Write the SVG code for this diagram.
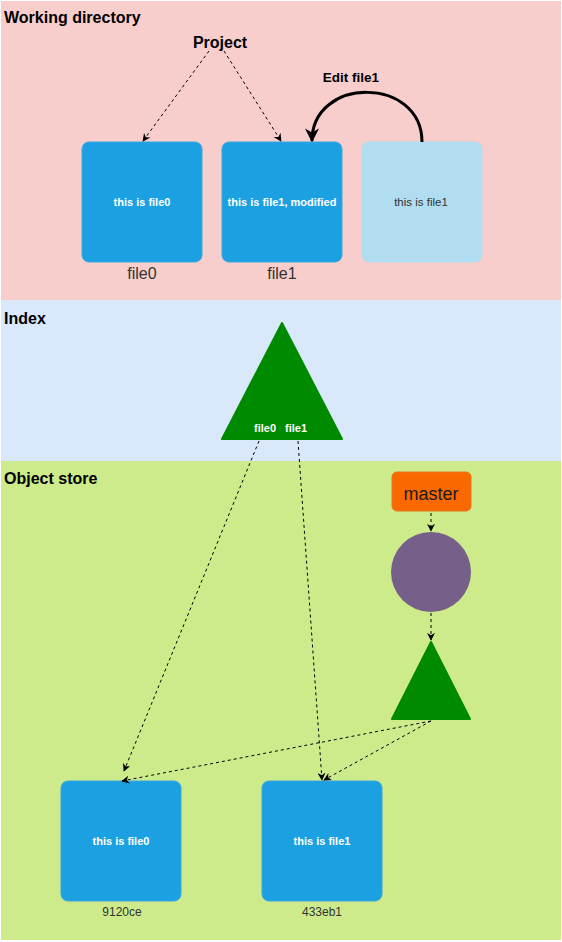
<svg xmlns="http://www.w3.org/2000/svg" width="562" height="942" viewBox="0 0 562 942">
<defs>
<marker id="arr" viewBox="0 0 10 10" refX="9" refY="5" markerWidth="8" markerHeight="8" markerUnits="userSpaceOnUse" orient="auto">
<path d="M0,0 L10,5 L0,10 L3,5 Z" fill="#000"/>
</marker>
<marker id="arrBig" viewBox="0 0 10 10" refX="9" refY="5" markerWidth="14" markerHeight="14" markerUnits="userSpaceOnUse" orient="auto">
<path d="M0,0 L10,5 L0,10 L3,5 Z" fill="#000"/>
</marker>
</defs>
<style>
text{font-family:"Liberation Sans",Arial,sans-serif}
.title{font-size:16px;font-weight:bold;fill:#000}
.box{fill:#1ba1e2;stroke:#3ba7e0;stroke-width:1}
.boxl{fill:#b1ddf0;stroke:#b1ddf0}
.bt{font-size:11px;font-weight:bold;fill:#fff;text-anchor:middle}
.lbl{font-size:16px;fill:#333;text-anchor:middle}
.hash{font-size:12px;fill:#333;text-anchor:middle}
.tree{fill:#008a00;stroke:#008a00;stroke-width:2;stroke-linejoin:round}
.dash{fill:none;stroke:#000;stroke-width:1;stroke-dasharray:3 3;marker-end:url(#arr)}
</style>
<g id="panels">
<rect x="1" y="1" width="560" height="299" fill="#f8cecc"/>
<rect x="1" y="300" width="560" height="161" fill="#dae8fc"/>
<rect x="1" y="461" width="560" height="479" fill="#cdeb8b"/>
<text class="title" x="4" y="23">Working directory</text>
<text class="title" x="4" y="324">Index</text>
<text class="title" x="4" y="484">Object store</text>
</g>
<g id="project"><text class="title" x="220" y="48" text-anchor="middle">Project</text></g>
<g id="wd-file0">
<rect class="box" x="82" y="142" width="120" height="120" rx="7"/>
<text class="bt" x="142" y="206">this is file0</text>
<text class="lbl" x="142" y="279">file0</text>
</g>
<g id="wd-file1">
<rect class="box" x="222" y="142" width="120" height="120" rx="7"/>
<text class="bt" x="282" y="206">this is file1, modified</text>
<text class="lbl" x="282" y="279">file1</text>
</g>
<g id="wd-file1-old">
<rect class="boxl" x="362" y="142" width="120" height="120" rx="7"/>
<text x="421" y="206" text-anchor="middle" font-size="11.5" fill="#333">this is file1</text>
</g>
<g id="edit-label"><text x="351" y="82" text-anchor="middle" font-size="13.5" font-weight="bold" fill="#000">Edit file1</text></g>
<g id="index-tree">
<polygon class="tree" points="282,323 222,439 342,439"/>
<text x="265" y="432" text-anchor="middle" font-size="11" font-weight="bold" fill="#fff">file0</text>
<text x="296" y="432" text-anchor="middle" font-size="11" font-weight="bold" fill="#fff">file1</text>
</g>
<g id="master">
<rect x="392" y="472" width="79" height="39" rx="5" fill="#fa6800" stroke="#e8761e"/>
<text x="431" y="500" text-anchor="middle" font-size="18" fill="#1a1a1a">master</text>
</g>
<g id="commit"><circle cx="431" cy="572" r="40" fill="#76608a"/></g>
<g id="tree"><polygon class="tree" points="431,642 392,719 470,719"/></g>
<g id="blob0">
<rect class="box" x="61" y="781" width="120" height="120" rx="7"/>
<text class="bt" x="121" y="845">this is file0</text>
<text class="hash" x="122" y="916">9120ce</text>
</g>
<g id="blob1">
<rect class="box" x="262" y="781" width="120" height="120" rx="7"/>
<text class="bt" x="322" y="845">this is file1</text>
<text class="hash" x="322" y="916">433eb1</text>
</g>
<g id="connectors">
<path class="dash" d="M209,51 L143,141"/>
<path class="dash" d="M224,51 L281,141"/>
<path d="M422,142 C422,76 312,76 312,141" fill="none" stroke="#000" stroke-width="3" marker-end="url(#arrBig)"/>
<path class="dash" d="M259,441 L124,771"/>
<path class="dash" d="M298,441 L322,780"/>
<path class="dash" d="M431,513 L431,531"/>
<path class="dash" d="M431,613 L431,640"/>
<path class="dash" d="M431,721 L122,781"/>
<path class="dash" d="M431,721 L324,780"/>
</g>
</svg>
